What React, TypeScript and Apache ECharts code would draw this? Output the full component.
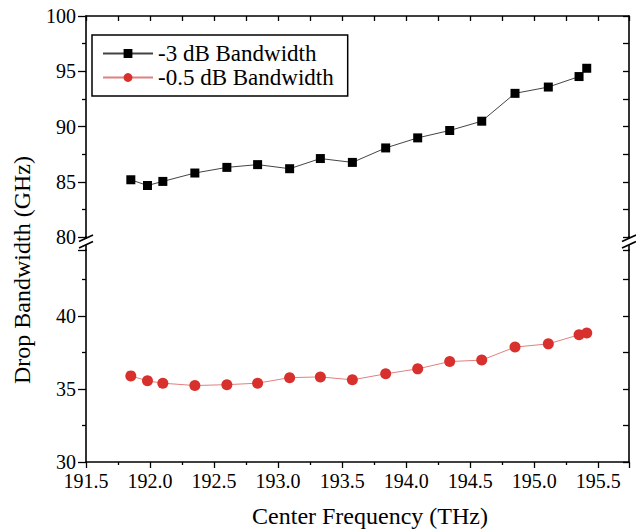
import React, { useEffect, useRef } from "react";
import * as echarts from "echarts";

const freqs3dB = [191.85, 191.98, 192.1, 192.35, 192.6, 192.84, 193.09, 193.33, 193.58, 193.84, 194.09, 194.34, 194.59, 194.85, 195.11, 195.35, 195.41];
const bw3dB = [85.18, 84.66, 85.03, 85.79, 86.3, 86.55, 86.18, 87.1, 86.75, 88.06, 88.97, 89.64, 90.48, 93.0, 93.57, 94.52, 95.27];
const freqs05dB = [191.85, 191.98, 192.1, 192.35, 192.6, 192.84, 193.09, 193.33, 193.58, 193.84, 194.09, 194.34, 194.59, 194.85, 195.11, 195.35, 195.41];
const bw05dB = [35.89, 35.55, 35.39, 35.23, 35.29, 35.39, 35.77, 35.82, 35.62, 36.03, 36.37, 36.87, 36.97, 37.86, 38.08, 38.7, 38.82];
const seriesNames = ["-3 dB Bandwidth", "-0.5 dB Bandwidth"];
const xTitle = "Center Frequency (THz)";
const yTitle = "Drop Bandwidth (GHz)";

const FONT = "'Liberation Serif', 'Times New Roman', serif";

export default function App() {
  const ref = useRef<HTMLDivElement>(null);
  useEffect(() => {
    if (!ref.current) return;
    const chart = echarts.init(ref.current, null, { renderer: "svg" });
    const L = 86, W = 543;
    const topT = 16, topH = 221;
    const botT = 250, botH = 212;
    const axisLine = { show: true, lineStyle: { color: "#000", width: 1.6 } };
    const xCommon = {
      type: "value" as const,
      min: 191.5,
      max: 195.74,
      interval: 0.5,
      splitLine: { show: false },
      axisLine,
    };
    const breakLines = (x: number) => [
      { type: "line", shape: { x1: x - 7, y1: 241.5, x2: x + 7, y2: 235 }, style: { stroke: "#000", lineWidth: 1.6 } },
      { type: "line", shape: { x1: x - 7, y1: 248, x2: x + 7, y2: 241.5 }, style: { stroke: "#000", lineWidth: 1.6 } },
      { type: "line", shape: { x1: x, y1: 236, x2: x, y2: 239 }, style: { stroke: "#000", lineWidth: 1.6 } },
      { type: "line", shape: { x1: x, y1: 245, x2: x, y2: 251 }, style: { stroke: "#000", lineWidth: 1.6 } },
    ];
    const labelStyle = { show: true, margin: 10, color: "#000", fontFamily: FONT, fontSize: 20 };
    chart.setOption({
      animation: false,
      backgroundColor: "#fff",
      grid: [
        { left: L, top: topT, width: W, height: topH },
        { left: L, top: botT, width: W, height: botH },
      ],
      legend: {
        orient: "vertical",
        left: 92,
        top: 35,
        data: seriesNames,
        itemWidth: 50,
        itemHeight: 11,
        itemGap: 1,
        padding: [7, 14, 7, 10],
        borderColor: "#000",
        borderWidth: 1.5,
        textStyle: { fontFamily: FONT, fontSize: 23, color: "#000" },
      },
      xAxis: [
        {
          ...xCommon,
          gridIndex: 0,
          position: "top",
          axisLabel: { show: false },
          axisTick: { show: true, inside: true, length: 5, lineStyle: { color: "#000", width: 1.3 } },
          minorTick: { show: true, splitNumber: 2, length: 5, lineStyle: { color: "#000", width: 1.3 } },
        },
        {
          ...xCommon,
          gridIndex: 1,
          position: "bottom",
          axisLabel: { ...labelStyle, margin: 9, formatter: (v: number) => v.toFixed(1) },
          axisTick: { show: true, inside: false, length: 6, lineStyle: { color: "#000", width: 1.3 } },
          minorTick: { show: true, splitNumber: 2, length: 3, lineStyle: { color: "#000", width: 1.3 } },
        },
      ],
      yAxis: [
        {
          type: "value",
          gridIndex: 0,
          position: "left",
          min: 80,
          max: 100,
          interval: 5,
          splitLine: { show: false },
          axisLine,
          axisLabel: labelStyle,
          axisTick: { show: true, inside: false, length: 8, lineStyle: { color: "#000", width: 1.3 } },
          minorTick: { show: true, splitNumber: 2, length: 4, lineStyle: { color: "#000", width: 1.3 } },
        },
        {
          type: "value",
          gridIndex: 0,
          position: "right",
          min: 80,
          max: 100,
          interval: 5,
          splitLine: { show: false },
          axisLine,
          axisLabel: { show: false },
          axisTick: { show: true, inside: true, length: 6, lineStyle: { color: "#000", width: 1.3 } },
          minorTick: { show: true, splitNumber: 2, length: 6, lineStyle: { color: "#000", width: 1.3 } },
        },
        {
          type: "value",
          gridIndex: 1,
          position: "left",
          min: 30,
          max: 44.5,
          interval: 5,
          splitLine: { show: false },
          axisLine,
          axisLabel: { ...labelStyle, showMaxLabel: false },
          axisTick: { show: true, inside: false, length: 8, lineStyle: { color: "#000", width: 1.3 } },
          minorTick: { show: true, splitNumber: 2, length: 4, lineStyle: { color: "#000", width: 1.3 } },
        },
        {
          type: "value",
          gridIndex: 1,
          position: "right",
          min: 30,
          max: 44.5,
          interval: 5,
          splitLine: { show: false },
          axisLine,
          axisLabel: { show: false },
          axisTick: { show: true, inside: true, length: 6, lineStyle: { color: "#000", width: 1.3 } },
          minorTick: { show: true, splitNumber: 2, length: 6, lineStyle: { color: "#000", width: 1.3 } },
        },
      ],
      series: [
        {
          name: seriesNames[0],
          type: "line",
          xAxisIndex: 0,
          yAxisIndex: 0,
          data: freqs3dB.map((f, i) => [f, bw3dB[i]]),
          symbol: "rect",
          symbolSize: 9,
          itemStyle: { color: "#000" },
          lineStyle: { color: "#444", width: 1 },
        },
        {
          name: seriesNames[1],
          type: "line",
          xAxisIndex: 1,
          yAxisIndex: 2,
          data: freqs05dB.map((f, i) => [f, bw05dB[i]]),
          symbol: "circle",
          symbolSize: 11,
          itemStyle: { color: "#d8302c" },
          lineStyle: { color: "#e08080", width: 1 },
        },
      ],
      graphic: [
        ...breakLines(L),
        ...breakLines(L + W),
        {
          type: "text",
          x: 370,
          y: 516,
          style: {
            text: xTitle,
            fontFamily: FONT,
            fontSize: 24,
            fill: "#000",
            align: "center",
            verticalAlign: "middle",
          },
        },
        {
          type: "text",
          x: 22,
          y: 270,
          rotation: Math.PI / 2,
          style: {
            text: yTitle,
            fontFamily: FONT,
            fontSize: 24,
            fill: "#000",
            align: "center",
            verticalAlign: "middle",
          },
        },
      ],
    });
    return () => chart.dispose();
  }, []);
  return <div ref={ref} style={{ width: 636, height: 531, position: "absolute", left: 0, top: 0 }} />;
}
